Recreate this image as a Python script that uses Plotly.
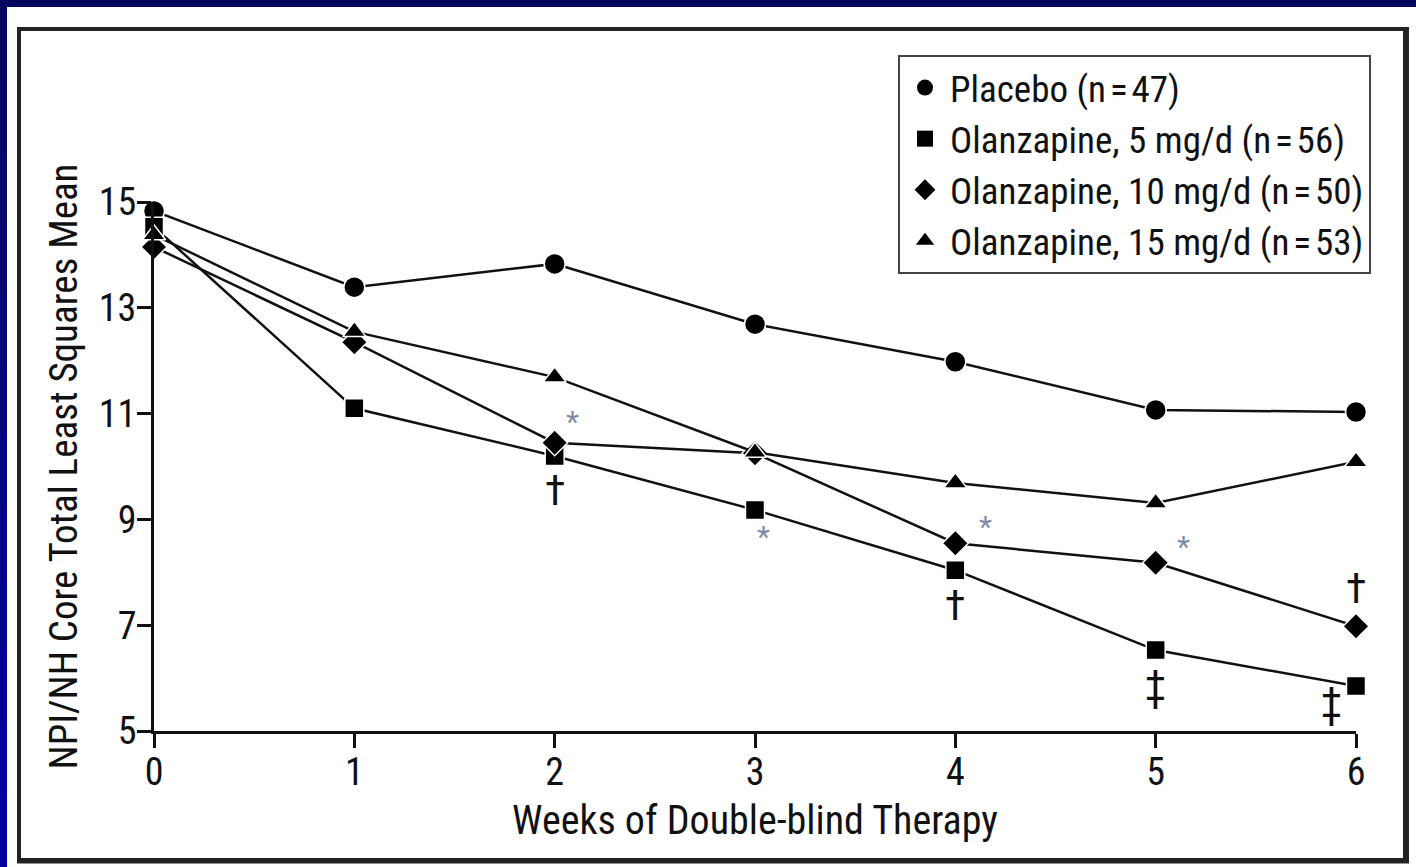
import plotly.graph_objects as go

# ---- data ----
weeks = [0, 1, 2, 3, 4, 5, 6]
placebo = [14.83, 13.39, 13.83, 12.69, 11.98, 11.07, 11.03]
olz5 = [14.53, 11.10, 10.20, 9.18, 8.04, 6.53, 5.85]
olz10 = [14.15, 12.35, 10.45, 10.25, 8.55, 8.18, 6.98]
olz15 = [14.38, 12.55, 11.69, 10.27, 9.69, 9.31, 10.09]
series_names = ["Placebo (n\u200a=\u200a47)", "Olanzapine, 5 mg/d (n\u200a=\u200a56)",
                "Olanzapine, 10 mg/d (n\u200a=\u200a50)", "Olanzapine, 15 mg/d (n\u200a=\u200a53)"]
x_ticks = [0, 1, 2, 3, 4, 5, 6]
y_ticks = [5, 7, 9, 11, 13, 15]

# significance marks
sig_x = [2.09, 2.0, 3.04, 4.15, 4.0, 5.14, 5.0, 6.0, 5.88]
sig_y = [10.85, 9.55, 8.67, 8.87, 7.38, 8.48, 5.86, 7.70, 5.53]
sig_sym = ["*", "\u2020", "*", "*", "\u2020", "*", "\u2021", "\u2020", "\u2021"]

FONT = "Liberation Sans Narrow, Roboto Condensed, Arial Narrow, Liberation Sans, sans-serif"
INK = "#111111"

# plot area in pixels
W, H = 1416, 867
L, R, T, B = 154, 1356, 202, 731


def px(xp):
    return (xp - L) / (R - L)


def py(yp):
    return (B - yp) / (B - T)


fig = go.Figure()
symbols = ["circle", "square", "diamond", "triangle-up"]
sizes = [21, 19, 20, 20]
for name, vals, sym, sz in zip(series_names, [placebo, olz5, olz10, olz15], symbols, sizes):
    fig.add_trace(go.Scatter(
        x=weeks, y=vals, name=name, mode="lines+markers", showlegend=False,
        line=dict(color=INK, width=2.5),
        marker=dict(symbol=sym, size=sz, color="#000000", line=dict(color="white", width=1.5)),
        cliponaxis=False,
    ))
# legend entries: markers only
for name, sym in zip(series_names, symbols):
    fig.add_trace(go.Scatter(
        x=[None], y=[None], name=name, mode="markers", showlegend=True,
        marker=dict(symbol=sym, size=16, color="#000000"),
    ))

for sx, sy, s in zip(sig_x, sig_y, sig_sym):
    if s == "*":
        fig.add_annotation(x=sx, y=sy, text=s, showarrow=False,
                           font=dict(family=FONT, size=30, color="#7d8aa6"))
    else:
        fig.add_annotation(x=sx, y=sy, text=s, showarrow=False,
                           font=dict(family=FONT, size=42, color=INK))


def hexmix(c1, c2, t):
    a = [int(c1[i:i + 2], 16) for i in (1, 3, 5)]
    b = [int(c2[i:i + 2], 16) for i in (1, 3, 5)]
    return "#" + "".join("%02x" % round(a[k] + (b[k] - a[k]) * t) for k in range(3))


shapes = []
# navy border: top band and left band (gradient)
shapes.append(dict(type="rect", xref="paper", yref="paper", x0=px(-5), x1=px(W + 5), y0=py(7), y1=py(-5),
                   fillcolor="#05055f", line=dict(width=0), layer="below"))
nseg = 12
for i in range(nseg):
    y0p = 7 + (H - 7) * i / nseg
    y1p = 7 + (H - 7) * (i + 1) / nseg + 1
    shapes.append(dict(type="rect", xref="paper", yref="paper", x0=px(-5), x1=px(7),
                       y0=py(y1p), y1=py(y0p),
                       fillcolor=hexmix("#06065f", "#0000a8", (i + 0.5) / nseg),
                       line=dict(width=0), layer="below"))
# inner frame
shapes.append(dict(type="rect", xref="paper", yref="paper", x0=px(19), x1=px(1405), y0=py(860), y1=py(29),
                   fillcolor="rgba(0,0,0,0)", line=dict(color="#222222", width=4), layer="below"))
shapes.append(dict(type="line", xref="paper", yref="paper", x0=px(1407.5), x1=px(1407.5), y0=py(863), y1=py(27),
                   line=dict(color="#222222", width=3), layer="below"))
shapes.append(dict(type="line", xref="paper", yref="paper", x0=px(17), x1=px(1409), y0=py(862), y1=py(862),
                   line=dict(color="#222222", width=3), layer="below"))

fig.update_layout(
    width=W, height=H,
    margin=dict(l=L, r=W - R, t=T, b=H - B, pad=0),
    paper_bgcolor="white",
    plot_bgcolor="white",
    shapes=shapes,
    font=dict(family=FONT, color=INK, size=34),
    showlegend=True,
    legend=dict(
        x=px(898), y=py(55), xanchor="left", yanchor="top",
        bgcolor="white", bordercolor="#444444", borderwidth=2,
        font=dict(family=FONT, size=37, color=INK),
        tracegroupgap=0, itemwidth=40,
    ),
    xaxis=dict(
        range=[0, 6], tickvals=x_ticks, ticktext=[str(v) for v in x_ticks],
        showgrid=False, zeroline=False, showline=True, linecolor=INK, linewidth=3,
        ticks="outside", ticklen=14, tickwidth=3, tickcolor=INK,
        tickfont=dict(family=FONT, size=38, color=INK), ticklabelstandoff=-9,
        title=dict(text="Weeks of Double-blind Therapy", font=dict(family=FONT, size=40, color=INK), standoff=14),
        automargin=False,
    ),
    yaxis=dict(
        range=[5, 15], tickvals=y_ticks, ticktext=[str(v) for v in y_ticks],
        showgrid=False, zeroline=False, showline=True, linecolor=INK, linewidth=3,
        ticks="outside", ticklen=14, tickwidth=3, tickcolor=INK,
        tickfont=dict(family=FONT, size=38, color=INK), ticklabelstandoff=-7,
        title=dict(text="NPI/NH Core Total Least Squares Mean", font=dict(family=FONT, size=39, color=INK), standoff=10),
        automargin=False,
    ),
)

fig.write_html("out.html", config={"displayModeBar": False},
               post_script="document.body.style.margin='0';document.body.style.padding='0';document.body.style.overflow='hidden';")
